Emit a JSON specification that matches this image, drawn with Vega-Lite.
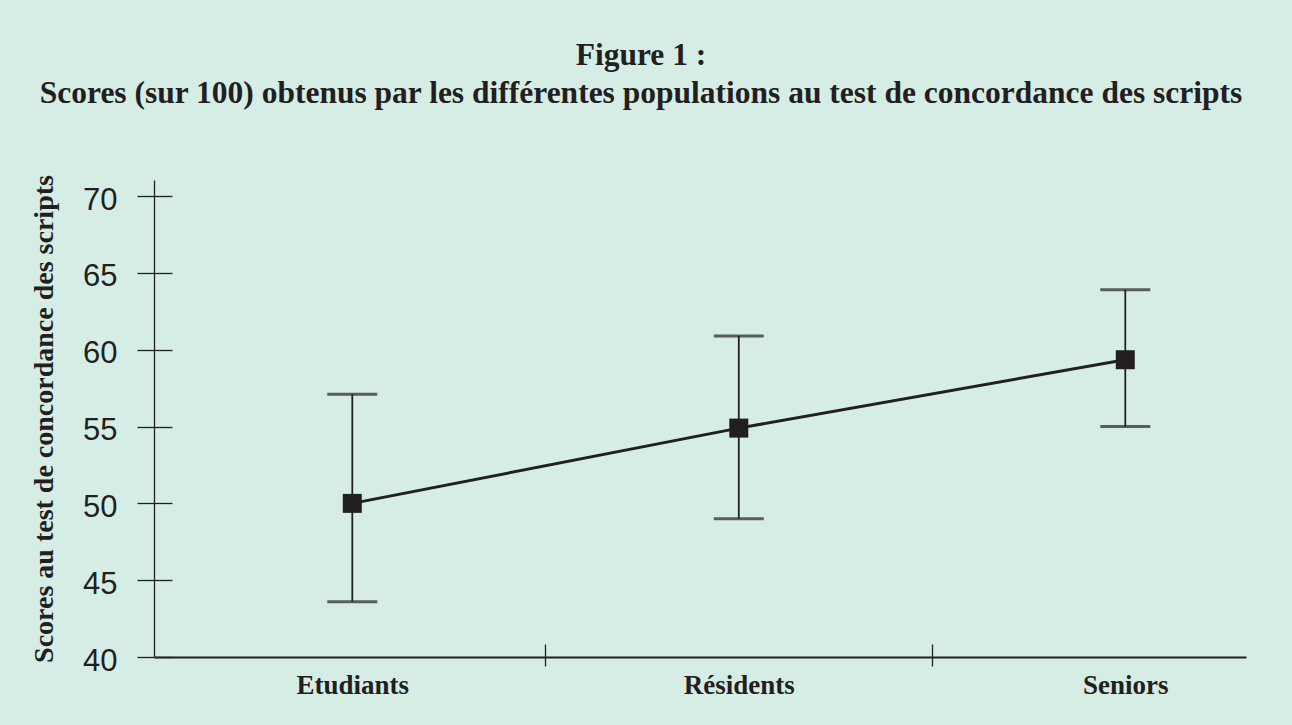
{
  "$schema": "https://vega.github.io/schema/vega-lite/v6.json",
  "autosize": {"type": "none"},
  "padding": {"left": 154, "top": 180, "right": 46, "bottom": 68},
  "width": 1092,
  "height": 477,
  "background": "#d6ede6",
  "config": {
    "view": {"stroke": null},
    "axis": {"grid": false, "domainColor": "#231f20", "tickColor": "#231f20", "labelColor": "#231f20", "titleColor": "#231f20"}
  },
  "title": {
    "text": ["Figure 1 :", "Scores (sur 100) obtenus par les différentes populations au test de concordance des scripts"],
    "font": "Liberation Serif",
    "fontWeight": "bold",
    "fontSize": 31.5,
    "lineHeight": 38,
    "color": "#231f20",
    "anchor": "middle",
    "dx": -59,
    "offset": 65
  },
  "data": {
    "values": [
      {"groupe": "Etudiants", "score": 50.0, "bas": 43.6, "haut": 57.1},
      {"groupe": "Résidents", "score": 54.9, "bas": 49.0, "haut": 60.9},
      {"groupe": "Seniors", "score": 59.35, "bas": 55.0, "haut": 63.9}
    ]
  },
  "resolve": {"axis": {"x": "independent", "y": "independent"}},
  "layer": [
    {
      "mark": {"type": "rule", "color": "#231f20", "strokeWidth": 1.8},
      "encoding": {
        "x": {
          "field": "groupe", "type": "nominal", "sort": null,
          "scale": {"type": "point", "padding": 0.4127, "align": 0.6216},
          "axis": {
            "orient": "bottom", "title": null, "domainWidth": 2, "tickSize": 9, "tickWidth": 1.3,
            "tickOffset": 193, "labelOffset": -193, "labelAngle": 0,
            "labelFont": "Liberation Serif", "labelFontWeight": "bold", "labelFontSize": 27,
            "labelBaseline": "top", "labelPadding": 6
          }
        },
        "y": {
          "field": "bas", "type": "quantitative",
          "scale": {"domain": [40, 71.05], "nice": false, "zero": false},
          "axis": {
            "orient": "left", "values": [40, 45, 50, 55, 60, 65, 70],
            "title": "Scores au test de concordance des scripts",
            "titleFont": "Liberation Serif", "titleFontWeight": "bold", "titleFontSize": 28, "titlePadding": 24,
            "domainWidth": 1.3, "tickSize": 17, "tickWidth": 1.3,
            "labelFont": "Liberation Sans", "labelFontSize": 31, "labelPadding": 20, "labelOffset": 4
          }
        },
        "y2": {"field": "haut"}
      }
    },
    {
      "mark": {"type": "tick", "color": "#231f20", "thickness": 3, "size": 50, "orient": "horizontal"},
      "encoding": {
        "x": {
          "field": "groupe", "type": "nominal", "sort": null,
          "axis": {"orient": "bottom", "offset": -13, "title": null, "domain": false, "labels": false, "tickSize": 13, "tickWidth": 1.3, "tickOffset": 193}
        },
        "y": {
          "field": "bas", "type": "quantitative",
          "axis": {"orient": "left", "offset": -18, "values": [40, 45, 50, 55, 60, 65, 70], "title": null, "domain": false, "labels": false, "tickSize": 18, "tickWidth": 1.3}
        }
      }
    },
    {
      "mark": {"type": "tick", "color": "#231f20", "thickness": 3, "size": 50, "orient": "horizontal"},
      "encoding": {
        "x": {"field": "groupe", "type": "nominal", "sort": null, "axis": null},
        "y": {"field": "haut", "type": "quantitative", "axis": null}
      }
    },
    {
      "mark": {"type": "line", "color": "#231f20", "strokeWidth": 3},
      "encoding": {
        "x": {"field": "groupe", "type": "nominal", "sort": null, "axis": null},
        "y": {"field": "score", "type": "quantitative", "axis": null}
      }
    },
    {
      "mark": {"type": "point", "shape": "square", "filled": true, "color": "#231f20", "opacity": 1, "size": 361},
      "encoding": {
        "x": {"field": "groupe", "type": "nominal", "sort": null, "axis": null},
        "y": {"field": "score", "type": "quantitative", "axis": null}
      }
    }
  ]
}
